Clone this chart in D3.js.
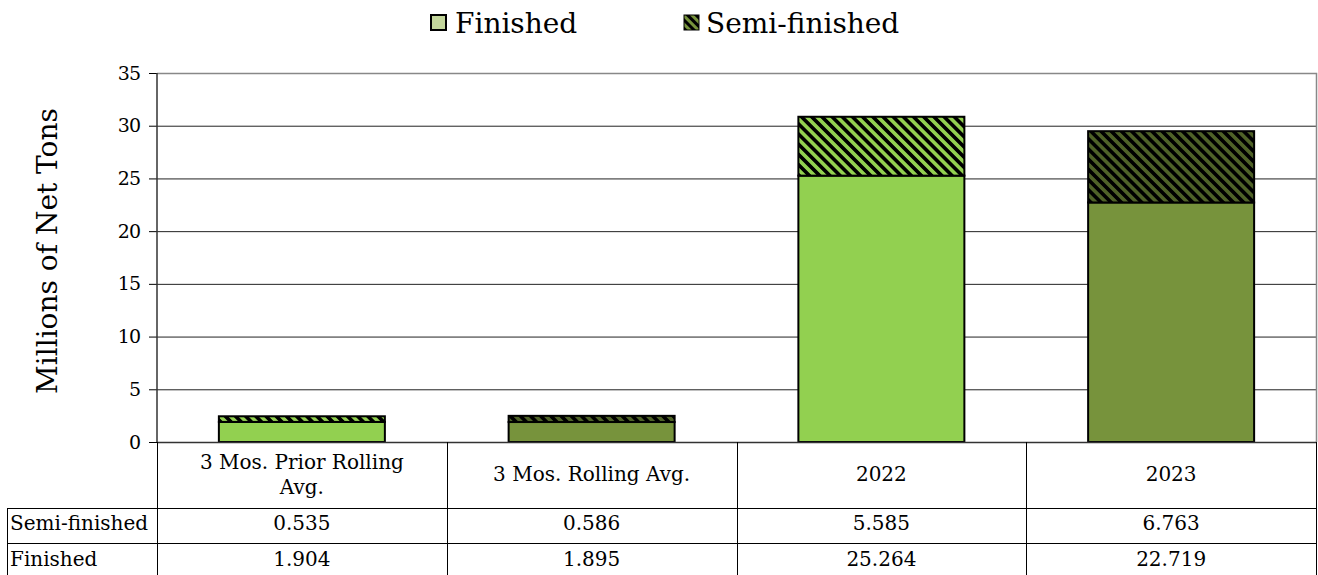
<!DOCTYPE html>
<html><head><meta charset="utf-8">
<script src="https://cdn.jsdelivr.net/npm/d3@7/dist/d3.min.js"></script>
<style>body{margin:0;background:#fff}svg{display:block}text{font-family:"DejaVu Serif",serif;fill:#000}</style>
</head><body><svg id="c" width="1318" height="575"></svg>
<script>
const categories = [["3 Mos. Prior Rolling","Avg."],["3 Mos. Rolling Avg."],["2022"],["2023"]];
const semiFinished = [0.535, 0.586, 5.585, 6.763];
const finished = [1.904, 1.895, 25.264, 22.719];
const semiLabels = ["0.535","0.586","5.585","6.763"];
const finLabels = ["1.904","1.895","25.264","22.719"];
const yTicks = [0,5,10,15,20,25,30,35];
const finColors = ["#92D050","#77933C","#92D050","#77933C"];
const semiColors = ["#92D050","#4F6228","#92D050","#4F6228"];

const svg = d3.select("#c");
const L = 157, R = 1316, T = 73, B = 442;
const x = d3.scaleBand().domain(d3.range(4)).range([L, R]).paddingInner(0).paddingOuter(0);
const y = d3.scaleLinear().domain([0,35]).range([B, T]);
const bw = 166;
const tf = "DejaVu Serif";

const defs = svg.append("defs");
function hatch(id, base, size){
  const p = defs.append("pattern").attr("id", id).attr("patternUnits","userSpaceOnUse")
    .attr("width", size).attr("height", size).attr("patternTransform","rotate(-45)");
  p.append("rect").attr("width", size).attr("height", size).attr("fill", base);
  p.append("rect").attr("width", size*0.5).attr("height", size).attr("fill", "#000");
}
Array.from(new Set(semiColors)).forEach(c=>hatch("h"+c.slice(1), c, 7.2));
hatch("legH", "#77933C", 6);

// gridlines
svg.append("g").selectAll("line").data(yTicks.filter(d=>d>0 && d<35)).join("line")
  .attr("x1", L).attr("x2", R).attr("y1", d=>y(d)+0.5).attr("y2", d=>y(d)+0.5)
  .attr("stroke", "#222").attr("stroke-width", 1);
svg.append("path").attr("d", `M${L},${T+0.5}H${R+0.5}V${B}`).attr("fill","none").attr("stroke","#888").attr("stroke-width",1.5);

// bars
const g = svg.append("g");
d3.range(4).forEach(i=>{
  const cx = x(i) + x.bandwidth()/2;
  g.append("rect").attr("x", cx - bw/2).attr("width", bw)
    .attr("y", y(finished[i])).attr("height", y(0) - y(finished[i]))
    .attr("fill", finColors[i]).attr("stroke", "#000").attr("stroke-width", 2);
  g.append("rect").attr("x", cx - bw/2).attr("width", bw)
    .attr("y", y(finished[i] + semiFinished[i])).attr("height", y(finished[i]) - y(finished[i]+semiFinished[i]))
    .attr("fill", `url(#h${semiColors[i].slice(1)})`).attr("stroke", "#000").attr("stroke-width", 2);
});

// y axis
const ya = svg.append("g").attr("transform", `translate(${L},0)`)
  .call(d3.axisLeft(y).tickValues(yTicks).tickSize(8).tickPadding(9));
ya.attr("font-family", tf);
ya.select(".domain").remove();
ya.append("line").attr("x1",0).attr("x2",0).attr("y1",T).attr("y2",B).attr("stroke","#333").attr("stroke-width",1.5);
ya.selectAll(".tick line").attr("stroke","#000");
ya.selectAll(".tick text").attr("font-family", tf).attr("font-size", 19).attr("fill","#000").attr("letter-spacing",-1);

svg.append("text").attr("transform", `translate(57,251) rotate(-90)`)
  .attr("text-anchor","middle").attr("font-size",28).attr("font-family",tf).text("Millions of Net Tons");

// table
const tl = svg.append("g").attr("stroke","#000").attr("stroke-width",1);
tl.append("line").attr("x1",L).attr("x2",R).attr("y1",B+0.5).attr("y2",B+0.5).attr("stroke","#333").attr("stroke-width",1.5);
[L, x(1), x(2), x(3), R].forEach(v=>{
  tl.append("line").attr("x1",Math.round(v)+0.5).attr("x2",Math.round(v)+0.5).attr("y1",B).attr("y2",575);
});
[508, 543].forEach(v=>{
  tl.append("line").attr("x1",7).attr("x2",R).attr("y1",v+0.5).attr("y2",v+0.5);
});
tl.append("line").attr("x1",7.5).attr("x2",7.5).attr("y1",508).attr("y2",575);

const fs = 20;
d3.range(4).forEach(i=>{
  const cx = x(i) + x.bandwidth()/2;
  const lines = categories[i];
  const t = svg.append("text").attr("text-anchor","middle").attr("font-size",fs).attr("font-family",tf);
  const y0 = lines.length === 1 ? 481 : 469;
  lines.forEach((s,k)=>t.append("tspan").attr("x",cx).attr("y",y0 + k*25).text(s));
  svg.append("text").attr("x",cx).attr("y",530).attr("text-anchor","middle").attr("font-size",fs).attr("font-family",tf).text(semiLabels[i]);
  svg.append("text").attr("x",cx).attr("y",566).attr("text-anchor","middle").attr("font-size",fs).attr("font-family",tf).text(finLabels[i]);
});
svg.append("text").attr("x",10).attr("y",530).attr("font-size",fs).attr("font-family",tf).text("Semi-finished");
svg.append("text").attr("x",10).attr("y",566).attr("font-size",fs).attr("font-family",tf).text("Finished");

// legend
const lg = svg.append("g");
lg.append("rect").attr("x",431).attr("y",15).attr("width",15).attr("height",15).attr("fill","#C3D69B").attr("stroke","#000").attr("stroke-width",2);
lg.append("text").attr("x",455).attr("y",33).attr("font-size",28).attr("font-family",tf).text("Finished");
lg.append("rect").attr("x",684).attr("y",15).attr("width",15).attr("height",15).attr("fill","url(#legH)").attr("stroke","#000").attr("stroke-width",1);
lg.append("text").attr("x",706).attr("y",33).attr("font-size",28).attr("font-family",tf).text("Semi-finished");
</script></body></html>
